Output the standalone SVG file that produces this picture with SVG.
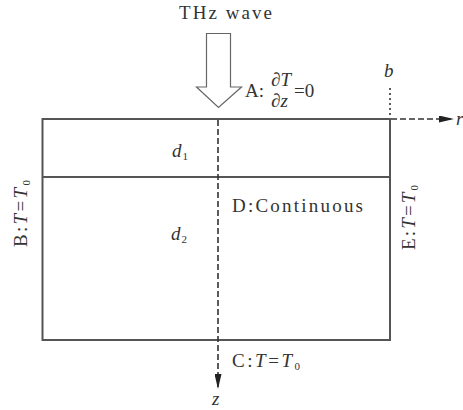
<svg xmlns="http://www.w3.org/2000/svg" width="463" height="410" viewBox="0 0 463 410">
<style>
.t{font-family:"Liberation Serif","Times New Roman",serif;fill:#333;font-size:19px}
.i{font-style:italic}
.sub{font-size:11px}
.frame{fill:none;stroke:#555;stroke-width:2}
.dash{fill:none;stroke:#333;stroke-width:1.6;stroke-dasharray:6 3}
.dot{fill:none;stroke:#333;stroke-width:1.6;stroke-dasharray:2 3}
</style>
<defs>
<marker id="ah" viewBox="0 0 15 7" refX="14" refY="3.5" markerWidth="15" markerHeight="7" markerUnits="userSpaceOnUse" orient="auto">
<path d="M0,0 L15,3.5 L0,7 Z" fill="#222"/>
</marker>
</defs>
<rect width="463" height="410" fill="#fff"/>
<g id="domain">
<rect class="frame" x="42.5" y="119" width="347.5" height="221"/>
<line class="frame" x1="42.5" y1="177" x2="390" y2="177"/>
</g>
<g id="wave">
<path d="M206.5,33.5 H230.5 V87 H241.5 L218.5,107.5 L196.5,87 H206.5 Z" fill="#fff" stroke="#666" stroke-width="1.2"/>
<text class="t" x="179" y="19" textLength="93" lengthAdjust="spacing">THz wave</text>
</g>
<g id="connectors">
<line class="dash" x1="218" y1="120" x2="218" y2="388" marker-end="url(#ah)"/>
<line class="dash" x1="391" y1="119" x2="453" y2="119" marker-end="url(#ah)"/>
<line class="dot" x1="390" y1="88" x2="390" y2="117"/>
</g>
<g id="labels">
<text class="t" x="245" y="97">A:</text>
<text class="t" x="271" y="86" font-size="18">∂<tspan class="i">T</tspan></text>
<text class="t" x="271" y="107" font-size="18">∂<tspan class="i">z</tspan></text>
<text class="t" x="294" y="97" font-size="20">=0</text>
<text class="t i" x="384" y="77">b</text>
<text class="t i" x="456" y="125">r</text>
<text class="t i" x="172" y="157">d<tspan class="sub" font-style="normal" dx="1" dy="3">1</tspan></text>
<text class="t i" x="171" y="240">d<tspan class="sub" font-style="normal" dx="1" dy="3">2</tspan></text>
<text class="t" x="232" y="212" textLength="131" lengthAdjust="spacing">D:Continuous</text>
<text class="t" x="232" y="367" textLength="68" lengthAdjust="spacing">C:<tspan class="i">T</tspan>=<tspan class="i">T</tspan><tspan class="sub" dy="3">0</tspan></text>
<text class="t i" x="212" y="405">z</text>
<text class="t" transform="translate(27,247) rotate(-90)" textLength="67" lengthAdjust="spacing">B:<tspan class="i">T</tspan>=<tspan class="i">T</tspan><tspan class="sub" dy="3">0</tspan></text>
<text class="t" transform="translate(415,250) rotate(-90)" textLength="65" lengthAdjust="spacing">E:<tspan class="i">T</tspan>=<tspan class="i">T</tspan><tspan class="sub" dy="3">0</tspan></text>
</g>
</svg>
